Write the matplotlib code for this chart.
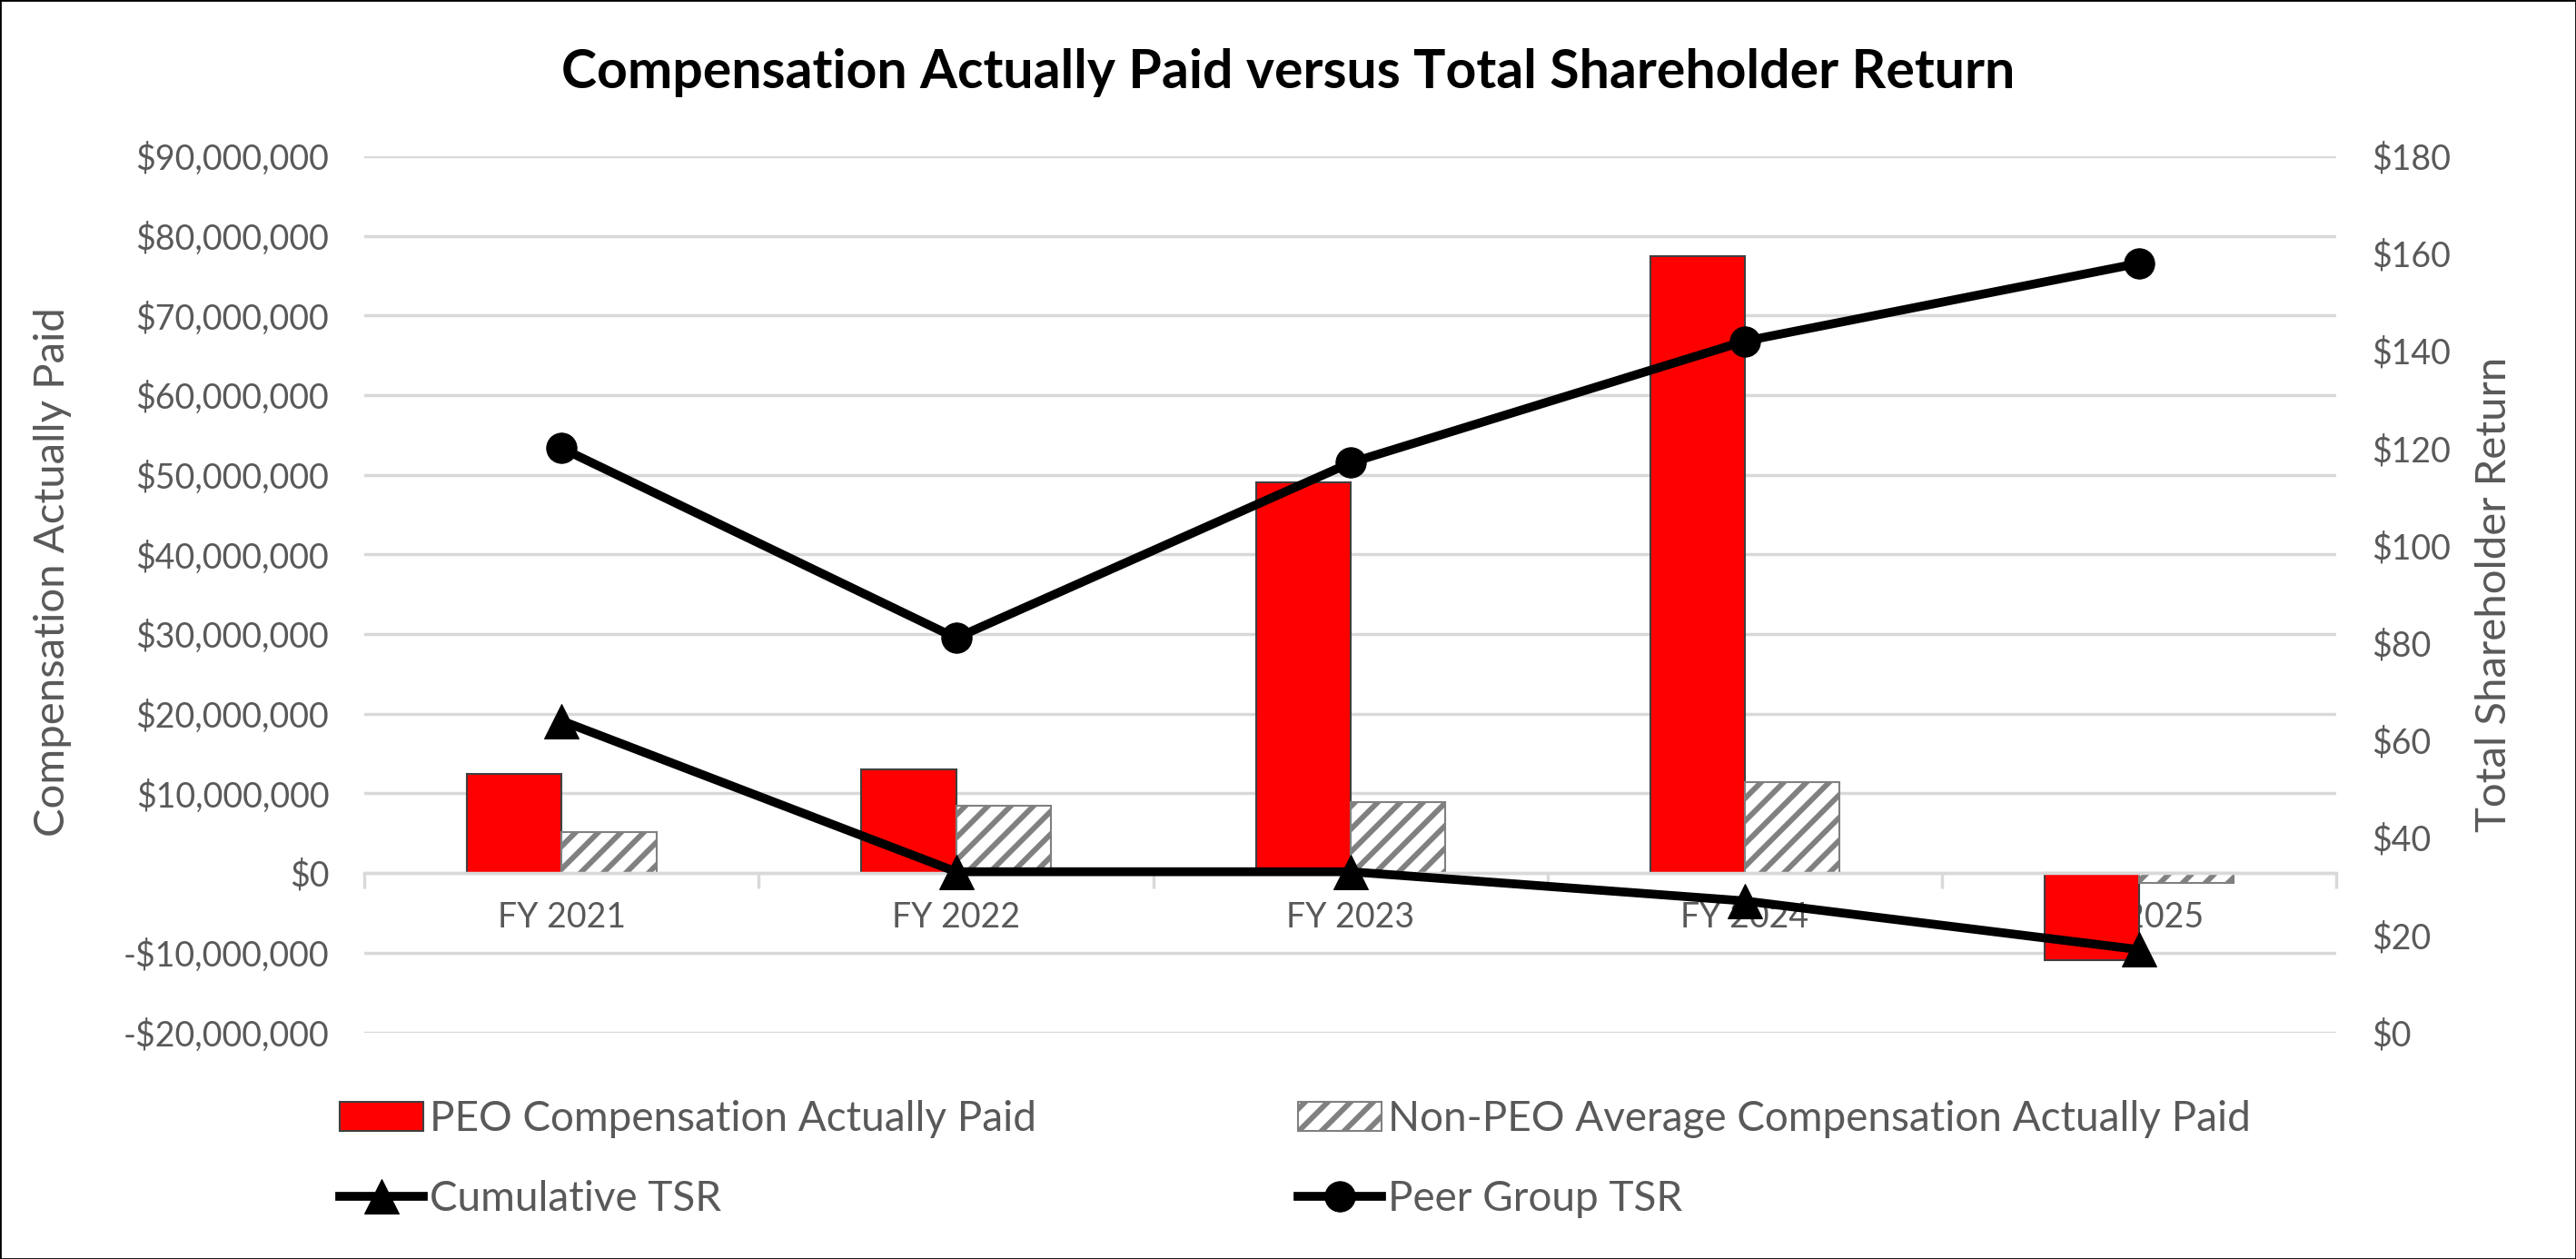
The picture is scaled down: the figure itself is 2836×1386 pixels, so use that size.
import numpy as np
import matplotlib.pyplot as plt
from matplotlib.patches import Rectangle
from matplotlib.ticker import FuncFormatter, FixedLocator

# Data
years = ['FY 2021', 'FY 2022', 'FY 2023', 'FY 2024', 'FY 2025']
peo_cap = [12.4e6, 13.0e6, 49.1e6, 77.4e6, -10.9e6]
non_peo_cap = [5.2e6, 8.5e6, 8.9e6, 11.4e6, -1.2e6]
cumulative_tsr = [64, 33, 33, 27, 17]
peer_tsr = [120, 81, 117, 142, 158]

# render at a lower dpi so the hatch stripes come out at the right spacing;
# K converts sizes tuned for dpi 100 into points at this dpi
DPI = 75
K = 100 / DPI

plt.rcParams['font.family'] = ['Lato', 'DejaVu Sans']
plt.rcParams['hatch.linewidth'] = 4.3 * K
plt.rcParams['hatch.color'] = '#808080'

grey_text = '#595959'
grid_col = '#d9d9d9'

fig = plt.figure(figsize=(2836 / DPI, 1386 / DPI), dpi=DPI)
ax = fig.add_axes([0.1415, 0.180, 0.7655, 0.696])
ax2 = ax.twinx()

x = np.arange(len(years))
w = 0.24

ax.bar(x - w / 2, peo_cap, w, color='#ff0000', edgecolor='#404040', linewidth=1.5 * K,
       label='PEO Compensation Actually Paid', zorder=2)
ax.bar(x + w / 2, non_peo_cap, w, color='white', edgecolor='#808080', linewidth=1.5 * K,
       hatch='/', label='Non-PEO Average Compensation Actually Paid', zorder=2)

ax2.plot(x, cumulative_tsr, color='black', linewidth=7 * K, marker='^', markersize=27 * K,
         label='Cumulative TSR', zorder=3)
ax2.plot(x, peer_tsr, color='black', linewidth=7 * K, marker='o', markersize=24 * K,
         label='Peer Group TSR', zorder=3)

ax.set_xlim(-0.5, 4.5)
ax.set_ylim(-20e6, 90e6)
ax2.set_ylim(0, 180)
ax.set_yticks(np.arange(-20e6, 90e6 + 1, 10e6))
ax2.set_yticks(np.arange(0, 181, 20))

def money(v, pos):
    if v < 0:
        return '-${:,.0f}'.format(-v)
    return '${:,.0f}'.format(v)

ax.yaxis.set_major_formatter(FuncFormatter(money))
ax2.yaxis.set_major_formatter(FuncFormatter(lambda v, p: '${:.0f}'.format(v)))

ax.grid(axis='y', color=grid_col, linewidth=2.5 * K, zorder=0)
ax.set_axisbelow(True)

for a in (ax, ax2):
    for s in a.spines.values():
        s.set_visible(False)
    a.tick_params(axis='y', length=0, labelsize=27 * K, labelcolor=grey_text, pad=28 * K)

# category axis sits on the zero line
ax.spines['bottom'].set_visible(True)
ax.spines['bottom'].set_position(('data', 0))
ax.spines['bottom'].set_color(grid_col)
ax.spines['bottom'].set_linewidth(2.5 * K)
ax.set_xticks(x)
ax.set_xticklabels(years)
ax.xaxis.set_minor_locator(FixedLocator(np.arange(-0.5, 4.6, 1)))
ax.tick_params(axis='x', which='major', length=0, labelsize=27 * K, labelcolor=grey_text, pad=22 * K)
ax.tick_params(axis='x', which='minor', length=12 * K, width=2.5 * K, color=grid_col)

ax.set_ylabel('Compensation Actually Paid', fontsize=34 * K, color=grey_text, va='center')
ax.yaxis.set_label_coords(-0.158, 0.526)
ax2.set_ylabel('Total Shareholder Return', fontsize=34 * K, color=grey_text, va='center')
ax2.yaxis.set_label_coords(1.080, 0.50)

fig.text(0.5, 0.942, 'Compensation Actually Paid versus Total Shareholder Return',
         ha='center', va='center', fontsize=42.5 * K, fontweight='bold', color='black')

h1, l1 = ax.get_legend_handles_labels()
h2, l2 = ax2.get_legend_handles_labels()
leg_opts = dict(loc='center left', frameon=False, fontsize=33 * K, labelcolor=grey_text,
                handlelength=2.0, handletextpad=0.15, labelspacing=1.0,
                borderpad=0, borderaxespad=0)
fig.legend([h1[0], h2[0]], [l1[0], l2[0]], bbox_to_anchor=(0.132, 0.0795), **leg_opts)
fig.legend([h1[1], h2[1]], [l1[1], l2[1]], bbox_to_anchor=(0.504, 0.0795), **leg_opts)

fig.patches.append(Rectangle((0, 0), 1, 1, transform=fig.transFigure, fill=False,
                             edgecolor='black', linewidth=2 * K))

fig.savefig('out.png', dpi=DPI)
